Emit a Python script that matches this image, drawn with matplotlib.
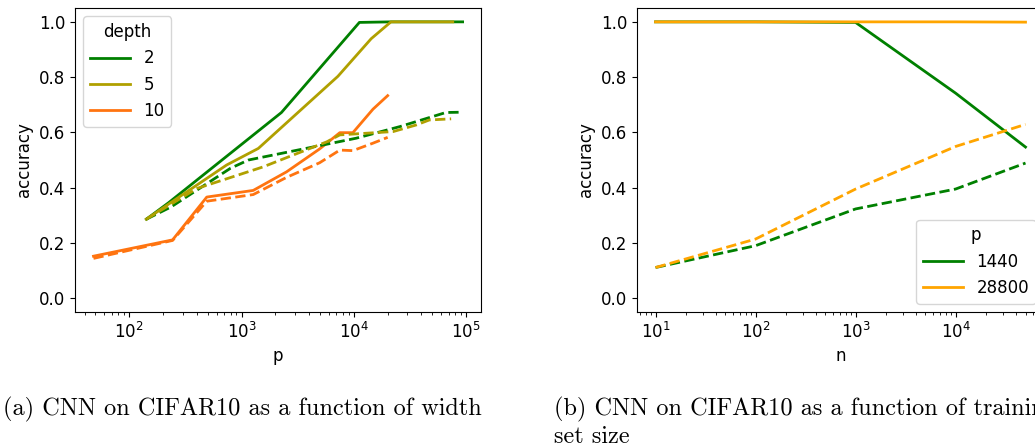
import matplotlib
matplotlib.use("Agg")
import matplotlib.pyplot as plt

# (a) accuracy vs width p, per depth (solid = train, dashed = test)
p_d2 = [142, 223, 2265, 11200, 21300, 93000]
train_d2 = [0.286, 0.345, 0.672, 0.998, 1.0, 1.0]
p_d2_test = [142, 235, 795, 1150, 6200, 10500, 25700, 66000, 90000]
test_d2 = [0.286, 0.33, 0.47, 0.50, 0.56, 0.579, 0.621, 0.672, 0.673]

p_d5 = [142, 223, 736, 1410, 7210, 14260, 21400, 76000]
train_d5 = [0.286, 0.34, 0.482, 0.542, 0.803, 0.939, 1.0, 1.0]
p_d5_test = [142, 400, 1550, 5750, 7500, 22400, 36000, 47000, 73500]
test_d5 = [0.286, 0.397, 0.475, 0.566, 0.591, 0.603, 0.627, 0.645, 0.649]

p_d10 = [48, 243, 490, 1270, 2510, 4950, 7500, 9800, 14800, 20000]
train_d10 = [0.152, 0.211, 0.366, 0.39, 0.457, 0.54, 0.599, 0.599, 0.684, 0.733]
test_d10 = [0.144, 0.209, 0.351, 0.375, 0.437, 0.49, 0.536, 0.534, 0.561, 0.582]

# (b) accuracy vs training set size n, per width p
n_vals = [10, 100, 1000, 10000, 50000]
train_1440 = [1.0, 1.0, 0.998, 0.742, 0.547]
test_1440 = [0.111, 0.19, 0.323, 0.395, 0.489]
train_28800 = [1.0, 1.0, 1.0, 1.0, 0.999]
test_28800 = [0.111, 0.214, 0.395, 0.549, 0.629]

c_green = "green"
c_olive = "#b0a000"
c_orange = "#ff7410"
c_orange2 = "orange"

plt.rcParams["font.size"] = 12

fig = plt.figure(figsize=(10.35, 4.47), dpi=100)
ax1 = fig.add_axes([0.0725, 0.302, 0.3923, 0.680])
ax2 = fig.add_axes([0.6155, 0.302, 0.3932, 0.680])

ax1.plot(p_d2, train_d2, color=c_green, lw=2, label="2")
ax1.plot(p_d5, train_d5, color=c_olive, lw=2, label="5")
ax1.plot(p_d10, train_d10, color=c_orange, lw=2, label="10")
ax1.plot(p_d2_test, test_d2, color=c_green, lw=2, ls="--")
ax1.plot(p_d5_test, test_d5, color=c_olive, lw=2, ls="--")
ax1.plot(p_d10, test_d10, color=c_orange, lw=2, ls="--")
ax1.set_xscale("log")
ax1.set_xlabel("p")
ax1.set_ylabel("accuracy")
ax1.set_ylim(-0.05, 1.05)
ax1.set_yticks([0.0, 0.2, 0.4, 0.6, 0.8, 1.0])
ax1.legend(title="depth", loc="upper left", fontsize=12, title_fontsize=12,
           handlelength=2.4)

ax2.plot(n_vals, train_1440, color=c_green, lw=2, label="1440")
ax2.plot(n_vals, train_28800, color=c_orange2, lw=2, label="28800")
ax2.plot(n_vals, test_1440, color=c_green, lw=2, ls="--")
ax2.plot(n_vals, test_28800, color=c_orange2, lw=2, ls="--")
ax2.set_xscale("log")
ax2.set_xlabel("n")
ax2.set_ylabel("accuracy")
ax2.set_ylim(-0.05, 1.05)
ax2.set_yticks([0.0, 0.2, 0.4, 0.6, 0.8, 1.0])
ax2.legend(title="p", loc="lower right", fontsize=12, title_fontsize=12,
           handlelength=2.4)

fig.text(0.003, 0.083, "(a) CNN on CIFAR10 as a function of width",
         family="cmr10", fontsize=17.5, va="center", ha="left")
fig.text(0.535, 0.083, "(b) CNN on CIFAR10 as a function of training",
         family="cmr10", fontsize=17.5, va="center", ha="left")
fig.text(0.535, 0.023, "set size",
         family="cmr10", fontsize=17.5, va="center", ha="left")

fig.savefig("out.png", dpi=100)
